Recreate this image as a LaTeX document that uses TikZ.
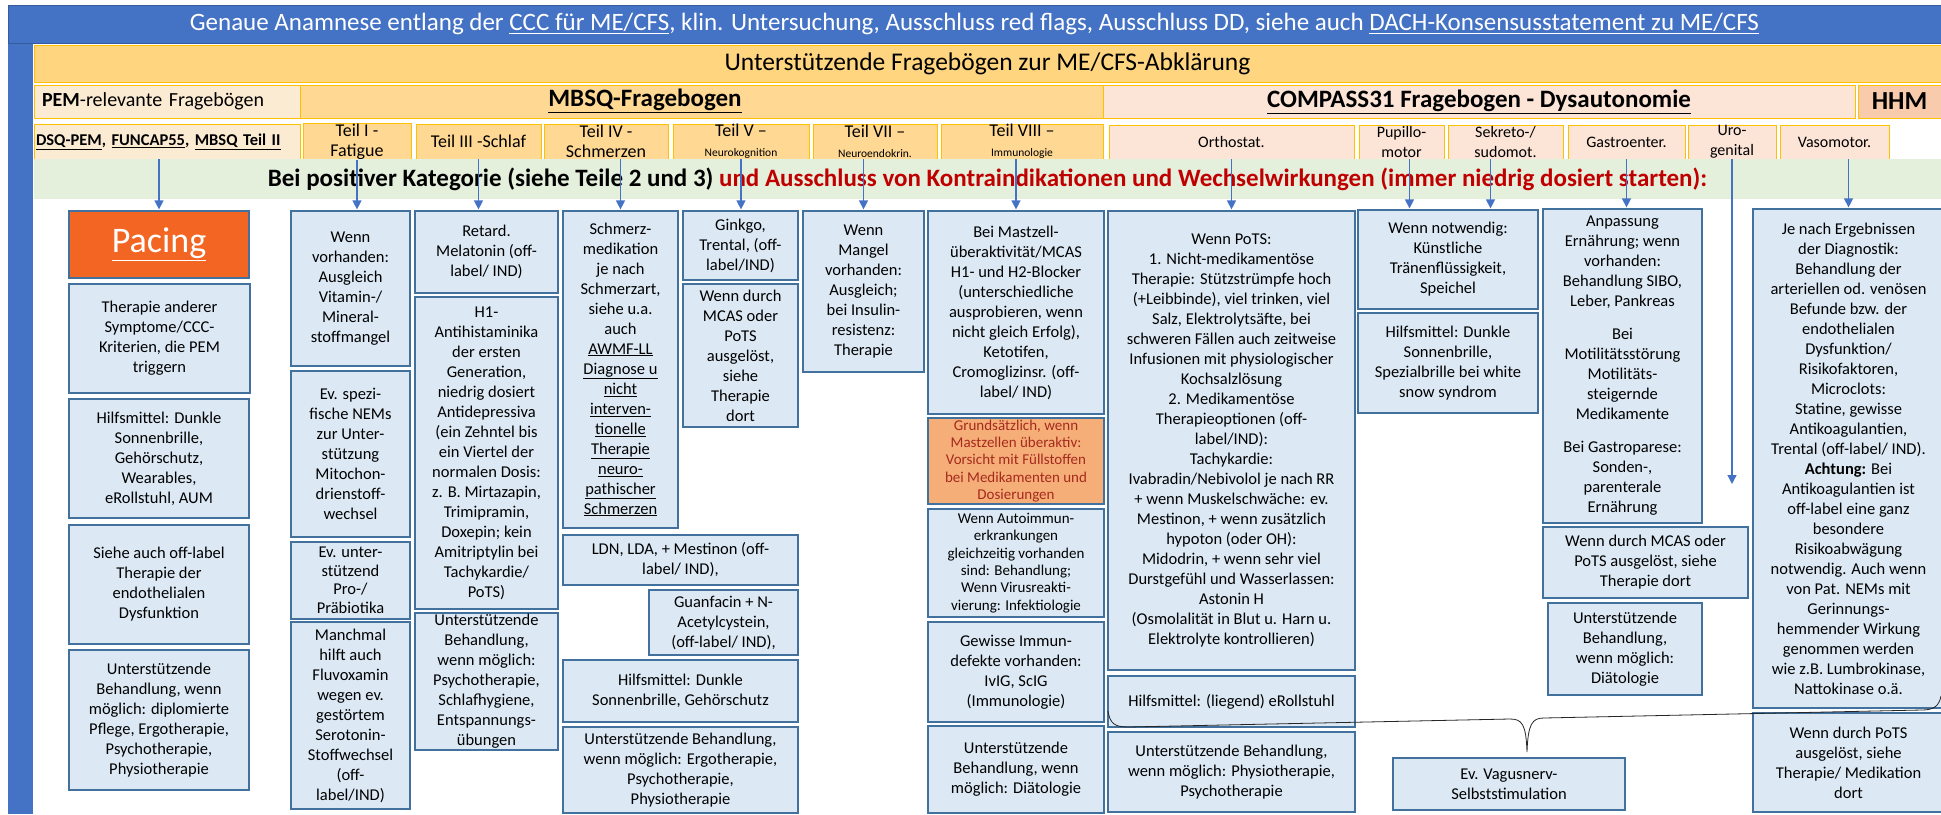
\documentclass[tikz,border=0pt]{standalone}
\usepackage{fontspec}
\setmainfont{Carlito}
\usetikzlibrary{arrows.meta}

\definecolor{bandblue}{HTML}{4472C4}
\definecolor{bandgold}{HTML}{FFD67F}
\definecolor{headline}{HTML}{FFC000}
\definecolor{pemfill}{HTML}{FCEBD3}
\definecolor{partfill}{HTML}{FFD893}
\definecolor{compfill}{HTML}{FCE4D6}
\definecolor{hhmfill}{HTML}{F8CBAD}
\definecolor{greenfill}{HTML}{E4EFDC}
\definecolor{bodyfill}{HTML}{DCE9F5}
\definecolor{bodyline}{HTML}{41719C}
\definecolor{pacingfill}{HTML}{F26522}
\definecolor{warnfill}{HTML}{F6AE78}
\definecolor{warntext}{HTML}{A52A1E}
\definecolor{redtext}{HTML}{C00000}
\definecolor{arrowblue}{HTML}{4472C4}

\begin{document}
\begin{tikzpicture}[x=1pt, y=-1pt,
    wh/.style 2 args={minimum width=#1pt, minimum height=#2pt},
    head/.style={draw=headline, line width=0.6pt, align=center, inner sep=0pt},
    part/.style={head, fill=partfill, font=\fontsize{18}{20}\selectfont},
    comp/.style={head, fill=compfill, font=\fontsize{16}{20}\selectfont},
    body/.style={draw=bodyline, line width=1.2pt, fill=bodyfill, align=center,
        inner sep=0.5pt, font=\fontsize{16.5}{20}\selectfont},
    smalltext/.style={font=\fontsize{15}{17.3}\selectfont},
    arr/.style={draw=arrowblue, line width=1.2pt,
        -{Triangle[length=9pt, width=9pt]}, shorten >=1pt}
]
    \useasboundingbox (0,0) rectangle (1941,814);
    \fill[white] (0,0) rectangle (1941,814);

    % header bands
    \fill[bandblue] (8,5) rectangle (33,814);
    \node[fill=bandblue, draw=bandblue!80!black, line width=0.5pt, wh={1933}{38},
        inner sep=0pt, text=white, font=\fontsize{25}{28}\selectfont] (anamnese) at (974.5,24)
        {Genaue Anamnese entlang der \underline{CCC für ME/CFS}, klin. Untersuchung, Ausschluss red flags, Ausschluss DD, siehe auch \underline{DACH-Konsensusstatement zu ME/CFS}};
    \node[head, fill=bandgold, wh={1907}{37}, font=\fontsize{25.5}{28}\selectfont] (frageboegen) at (987.5,63.5)
        {Unterstützende Fragebögen zur ME/CFS-Abklärung};

    \node[head, fill=pemfill, wh={266}{33}, align=left, text width=250pt,
        font=\fontsize{20}{24}\selectfont] (pem) at (167,101.5) {\textbf{PEM}-relevante Fragebögen};
    \node[head, fill=partfill, wh={803}{33}] (mbsq) at (701.5,101.5) {};
    \node[font=\bfseries\fontsize{25}{30}\selectfont] (mbsqlabel) at (645,101) {\underline{MBSQ-Fragebogen}};
    \node[head, fill=compfill, wh={752}{33}, font=\bfseries\fontsize{25}{30}\selectfont] (compass) at (1479,101.5)
        {\underline{COMPASS31 Fragebogen - Dysautonomie}};
    \node[head, fill=hhmfill, wh={83}{33}, font=\bfseries\fontsize{26}{30}\selectfont] (hhm) at (1899.5,101.5) {HHM};

    % questionnaire parts
    \node[head, fill=pemfill, wh={266}{35}, align=left, text width=262pt,
        font=\bfseries\fontsize{16.5}{20}\selectfont] (dsq) at (167,141.5)
        {\underline{DSQ-PEM}, \underline{FUNCAP55}, \underline{MBSQ Teil II}};
    \node[part, wh={108}{35}] (teilI) at (357,141.5) {Teil I -\\Fatigue};
    \node[part, wh={125}{35}] (teilIII) at (478.5,141.5) {Teil III -Schlaf};
    \node[part, wh={124}{35}] (teilIV) at (606,141.5) {Teil IV -\\Schmerzen};
    \node[part, wh={136}{35}] (teilV) at (741,141.5) {Teil V --\\{\fontsize{11.5}{14}\selectfont Neurokognition}};
    \node[part, wh={124}{35}] (teilVII) at (875,141.5) {Teil VII --\\{\fontsize{11.5}{14}\selectfont Neuroendokrin.}};
    \node[part, wh={162}{35}] (teilVIII) at (1022,141.5) {Teil VIII --\\{\fontsize{11.5}{14}\selectfont Immunologie}};
    \node[comp, wh={245}{34}] (orthostat) at (1231.5,142) {Orthostat.};
    \node[comp, wh={85}{34}] (pupillo) at (1401.5,142) {Pupillo-\\motor};
    \node[comp, wh={115}{34}] (sekreto) at (1505.5,142) {Sekreto-/\\sudomot.};
    \node[comp, wh={117}{34}] (gastro) at (1626.5,142) {Gastroenter.};
    \node[comp, wh={88}{34}] (uro) at (1732,142) {Uro-\\genital};
    \node[comp, wh={109}{34}] (vaso) at (1834.5,142) {Vasomotor.};

    \node[fill=greenfill, wh={1907}{40}, inner sep=0pt, font=\bfseries\fontsize{25}{28}\selectfont] (kategorie) at (987.5,179)
        {Bei positiver Kategorie (siehe Teile 2 und 3) \textcolor{redtext}{und Ausschluss von Kontraindikationen und Wechselwirkungen (immer niedrig dosiert starten):}};

    % PEM column
    \node[body, wh={180}{67}, fill=pacingfill, text=white, font=\fontsize{36}{40}\selectfont] (pacing) at (159,244.5) {\underline{Pacing}};
    \node[body, wh={181}{109}] (triggern) at (159.5,338.5) {Therapie anderer\\Symptome/CCC-\\Kriterien, die PEM\\triggern};
    \node[body, wh={180}{119}] (hilfspem) at (159,458.5) {Hilfsmittel: Dunkle\\Sonnenbrille,\\Gehörschutz,\\Wearables,\\eRollstuhl, AUM};
    \node[body, wh={180}{119}] (endothel) at (159,584.5) {Siehe auch off-label\\Therapie der\\endothelialen\\Dysfunktion};
    \node[body, wh={180}{140}] (stuetzpem) at (159,720) {Unterstützende\\Behandlung, wenn\\möglich: diplomierte\\Pflege, Ergotherapie,\\Psychotherapie,\\Physiotherapie};

    % Fatigue column
    \node[body, wh={119}{155}] (vitamin) at (350.5,288.5) {Wenn\\vorhanden:\\Ausgleich\\Vitamin-/\\Mineral-\\stoffmangel};
    \node[body, wh={119}{166}] (nems) at (350.5,454) {Ev. spezi-\\fische NEMs\\zur Unter-\\stützung\\Mitochon-\\drienstoff-\\wechsel};
    \node[body, wh={119}{77}, font=\fontsize{16.5}{18.5}\selectfont] (probiotika) at (350.5,580.5) {Ev. unter-\\stützend\\Pro-/\\Präbiotika};
    \node[body, wh={119}{187}] (fluvoxamin) at (350.5,715.5) {Manchmal\\hilft auch\\Fluvoxamin\\wegen ev.\\gestörtem\\Serotonin-\\Stoffwechsel\\(off-\\label/IND)};

    % Schlaf column
    \node[body, wh={143}{82}] (melatonin) at (486.5,252) {Retard.\\Melatonin  (off-\\label/ IND)};
    \node[body, wh={143}{312}] (antihist) at (486.5,453) {H1-\\Antihistaminika\\der ersten\\Generation,\\niedrig dosiert\\Antidepressiva\\(ein Zehntel bis\\ein Viertel der\\normalen Dosis:\\z. B. Mirtazapin,\\Trimipramin,\\Doxepin; kein\\Amitriptylin bei\\Tachykardie/\\PoTS)};
    \node[body, wh={143}{137}, inner sep=0pt] (schlafhyg) at (486.5,681.5) {Unterstützende\\Behandlung,\\wenn möglich:\\Psychotherapie,\\Schlafhygiene,\\Entspannungs-\\übungen};

    % Schmerz column
    \node[body, wh={115}{317}] (schmerzmed) at (620.5,369.5) {Schmerz-\\medikation\\je nach\\Schmerzart,\\siehe u.a.\\auch\\\underline{AWMF-LL}\\\underline{Diagnose u}\\\underline{nicht}\\\underline{interven-}\\\underline{tionelle}\\\underline{Therapie}\\\underline{neuro-}\\\underline{pathischer}\\\underline{Schmerzen}};
    \node[body, wh={235}{50}] (ldn) at (680.5,560) {LDN, LDA, + Mestinon (off-\\label/ IND),};
    \node[body, wh={149}{65}] (guanfacin) at (723.5,622.5) {Guanfacin + N-\\Acetylcystein,\\(off-label/ IND),};
    \node[body, wh={235}{62}] (hilfsschmerz) at (680.5,691) {Hilfsmittel: Dunkle\\Sonnenbrille, Gehörschutz};
    \node[body, wh={235}{86}] (stuetzschmerz) at (680.5,770) {Unterstützende Behandlung,\\wenn möglich: Ergotherapie,\\Psychotherapie,\\Physiotherapie};

    % Neurokognition column
    \node[body, wh={115}{69}] (ginkgo) at (740.5,245.5) {Ginkgo,\\Trental, (off-\\label/IND)};
    \node[body, wh={115}{143}] (kognmcas) at (740.5,355.5) {Wenn durch\\MCAS oder\\PoTS\\ausgelöst,\\siehe\\Therapie\\dort};

    % Neuroendokrin column
    \node[body, wh={121}{161}] (mangel) at (863.5,291.5) {Wenn\\Mangel\\vorhanden:\\Ausgleich;\\bei Insulin-\\resistenz:\\Therapie};

    % Immunologie column
    \node[body, wh={176}{203}] (mastzell) at (1016,312.5) {Bei Mastzell-\\überaktivität/MCAS\\H1- und H2-Blocker\\(unterschiedliche\\ausprobieren, wenn\\nicht gleich Erfolg),\\Ketotifen,\\Cromoglizinsr. (off-\\label/ IND)};
    \node[body, smalltext, wh={176}{86}, fill=warnfill, text=warntext] (fuellstoff) at (1016,461) {Grundsätzlich, wenn\\Mastzellen überaktiv:\\Vorsicht mit Füllstoffen\\bei Medikamenten und\\Dosierungen};
    \node[body, smalltext, wh={176}{108}] (autoimmun) at (1016,563) {Wenn Autoimmun-\\erkrankungen\\gleichzeitig vorhanden\\sind: Behandlung;\\Wenn Virusreakti-\\vierung: Infektiologie};
    \node[body, wh={176}{100}] (immundefekt) at (1016,672) {Gewisse Immun-\\defekte vorhanden:\\IvIG, ScIG\\(Immunologie)};
    \node[body, wh={176}{87}] (diaet) at (1016,769.5) {Unterstützende\\Behandlung, wenn\\möglich: Diätologie};

    % Orthostat column
    \node[body, wh={247}{459}] (pots) at (1231.5,440.5) {Wenn PoTS:\\1. Nicht-medikamentöse\\Therapie: Stützstrümpfe hoch\\(+Leibbinde), viel trinken, viel\\Salz, Elektrolytsäfte, bei\\schweren Fällen auch zeitweise\\Infusionen mit physiologischer\\Kochsalzlösung\\2. Medikamentöse\\Therapieoptionen (off-\\label/IND):\\Tachykardie:\\Ivabradin/Nebivolol je nach RR\\+ wenn Muskelschwäche: ev.\\Mestinon, + wenn zusätzlich\\hypoton (oder OH):\\Midodrin, + wenn sehr viel\\Durstgefühl und Wasserlassen:\\Astonin H\\(Osmolalität in Blut u. Harn u.\\Elektrolyte kontrollieren)};
    \node[body, wh={247}{51}] (rollstuhl) at (1231.5,701.5) {Hilfsmittel: (liegend) eRollstuhl};
    \node[body, wh={247}{80}] (stuetzortho) at (1231.5,772) {Unterstützende Behandlung,\\wenn möglich: Physiotherapie,\\Psychotherapie};

    % Pupillo / Sekreto column
    \node[body, wh={180}{99}] (traenen) at (1448,259.5) {Wenn notwendig:\\Künstliche\\Tränenflüssigkeit,\\Speichel};
    \node[body, wh={180}{100}] (sonnenbrille) at (1448,363) {Hilfsmittel: Dunkle\\Sonnenbrille,\\Spezialbrille bei white\\snow syndrom};

    % Gastro column
    \node[body, wh={159}{314}] (ernaehrung) at (1622.5,366) {Anpassung\\Ernährung; wenn\\vorhanden:\\Behandlung SIBO,\\Leber, Pankreas\\[13pt]Bei\\Motilitätsstörung\\Motilitäts-\\steigernde\\Medikamente\\[13pt]Bei Gastroparese:\\Sonden-,\\parenterale\\Ernährung};
    \node[body, wh={205}{71}] (gastromcas) at (1645.5,562.5) {Wenn durch MCAS oder\\PoTS ausgelöst,  siehe\\Therapie dort};
    \node[body, wh={154}{92}] (gastrodiaet) at (1625,649) {Unterstützende\\Behandlung,\\wenn möglich:\\Diätologie};

    % Vasomotor column
    \node[body, wh={191}{499}] (vaskulaer) at (1848.5,458.5) {Je nach Ergebnissen\\der Diagnostik:\\Behandlung der\\arteriellen od. venösen\\Befunde bzw. der\\endothelialen\\Dysfunktion/\\Risikofaktoren,\\Microclots:\\Statine, gewisse\\Antikoagulantien,\\Trental (off-label/ IND).\\\textbf{Achtung:} Bei\\Antikoagulantien ist\\off-label eine ganz\\besondere\\Risikoabwägung\\notwendig. Auch wenn\\von Pat. NEMs mit\\Gerinnungs-\\hemmender Wirkung\\genommen werden\\wie z.B. Lumbrokinase,\\Nattokinase o.ä.};
    \node[body, wh={191}{99}] (vasopots) at (1848.5,762.5) {Wenn durch PoTS\\ausgelöst, siehe\\Therapie/ Medikation\\dort};

    \node[body, wh={232}{52}] (vagus) at (1509,784) {Ev. Vagusnerv-\\Selbststimulation};

    % arrows
    \coordinate (pupilloarr) at ([xshift=8pt]pupillo.south);
    \coordinate (sekretoarr) at ([xshift=-15pt]sekreto.south);
    \coordinate (uroend) at (1732,485);
    \draw[arr] (dsq.south -| pacing.north) -- (pacing.north);
    \draw[arr] (teilI.south) -- (teilI.south |- vitamin.north);
    \draw[arr] (teilIII.south) -- (teilIII.south |- melatonin.north);
    \draw[arr] (teilIV.south -| schmerzmed.north) -- (schmerzmed.north);
    \draw[arr] (teilV.south) -- (teilV.south |- ginkgo.north);
    \draw[arr] (teilVII.south -| mangel.north) -- (mangel.north);
    \draw[arr] (teilVIII.south -| mastzell.north) -- (mastzell.north);
    \draw[arr] (orthostat.south) -- (orthostat.south |- pots.north);
    \draw[arr] (pupilloarr) -- (pupilloarr |- traenen.north);
    \draw[arr] (sekretoarr) -- (sekretoarr |- traenen.north);
    \draw[arr] (gastro.south) -- (gastro.south |- ernaehrung.north);
    \draw[arr] (uro.south) -- (uroend);
    \draw[arr] (vaso.south -| vaskulaer.north) -- (vaskulaer.north);

    % brace towards vagus
    \draw[line width=0.8pt, black!85] (1108,711) .. controls (1110,723) and (1114,727) .. (1128,727)
        -- (1510,719) .. controls (1522,719) and (1526,724) .. (1527,752)
        .. controls (1528,724) and (1532,718) .. (1544,718)
        -- (1922,710) .. controls (1934,710) and (1939,706) .. (1941,696);
\end{tikzpicture}
\end{document}
